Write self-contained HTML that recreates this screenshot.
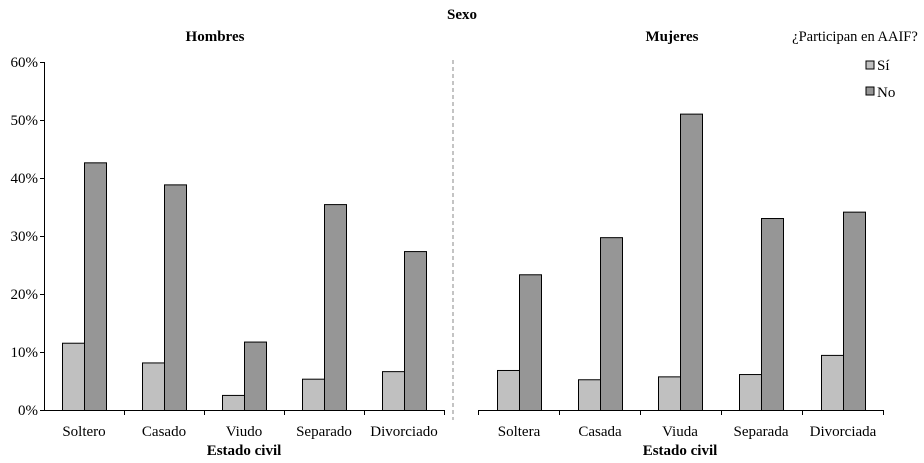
<!DOCTYPE html><html><head><style>body{margin:0;background:#fff}svg{display:block}text{font-family:"Liberation Serif",serif;fill:#000}</style></head><body>
<svg width="924" height="463" xmlns="http://www.w3.org/2000/svg">
<text x="462" y="19" font-size="15" font-weight="bold" text-anchor="middle">Sexo</text>
<text x="215" y="41" font-size="15" font-weight="bold" text-anchor="middle">Hombres</text>
<text x="672" y="41" font-size="15" font-weight="bold" text-anchor="middle">Mujeres</text>
<text x="855" y="41" font-size="14.5" text-anchor="middle">¿Participan en AAIF?</text>
<rect x="866" y="61" width="8" height="8" fill="#c0c0c0" stroke="#000" stroke-width="1"/><text x="877" y="70" font-size="15">Sí</text>
<rect x="866" y="87" width="8" height="8" fill="#969696" stroke="#000" stroke-width="1"/><text x="877" y="97" font-size="15">No</text>
<line x1="453" y1="60" x2="453" y2="420" stroke="#888" stroke-dasharray="4,3"/>
<g font-size="15" text-anchor="end">
<text x="38" y="415">0%</text><text x="38" y="357">10%</text><text x="38" y="299">20%</text><text x="38" y="241">30%</text><text x="38" y="183">40%</text><text x="38" y="125">50%</text><text x="38" y="67">60%</text>
</g>
<g stroke="#000" stroke-width="1">
<line x1="44.5" y1="62" x2="44.5" y2="410"/>
<line x1="40" y1="410.5" x2="444" y2="410.5"/>
<line x1="40" y1="352.5" x2="44" y2="352.5"/><line x1="40" y1="294.5" x2="44" y2="294.5"/><line x1="40" y1="236.5" x2="44" y2="236.5"/><line x1="40" y1="178.5" x2="44" y2="178.5"/><line x1="40" y1="120.5" x2="44" y2="120.5"/><line x1="40" y1="62.5" x2="44" y2="62.5"/>
<line x1="124.5" y1="410" x2="124.5" y2="415"/><line x1="204.5" y1="410" x2="204.5" y2="415"/><line x1="284.5" y1="410" x2="284.5" y2="415"/><line x1="364.5" y1="410" x2="364.5" y2="415"/><line x1="444.5" y1="410" x2="444.5" y2="415"/>
<line x1="478" y1="410.5" x2="884" y2="410.5"/>
<line x1="478.5" y1="410" x2="478.5" y2="415"/><line x1="559.5" y1="410" x2="559.5" y2="415"/><line x1="640.5" y1="410" x2="640.5" y2="415"/><line x1="721.5" y1="410" x2="721.5" y2="415"/><line x1="802.5" y1="410" x2="802.5" y2="415"/><line x1="883.5" y1="410" x2="883.5" y2="415"/>
</g>
<g stroke="#000" stroke-width="1" id="bars"></g>
<g font-size="15" text-anchor="middle" id="labels"></g>
<text x="244" y="455" font-size="15" font-weight="bold" text-anchor="middle">Estado civil</text>
<text x="680" y="455" font-size="15" font-weight="bold" text-anchor="middle">Estado civil</text>
<script>
var b=document.getElementById('bars'),l=document.getElementById('labels'),ns='http://www.w3.org/2000/svg';
function add(cs,names,si,no){for(var i=0;i<5;i++){var c=cs[i];[[si[i],c-22,'#c0c0c0'],[no[i],c,'#969696']].forEach(function(d){var h=d[0]*5.8,r=document.createElementNS(ns,'rect');r.setAttribute('x',d[1]+.5);r.setAttribute('y',410.5-h);r.setAttribute('width',22);r.setAttribute('height',h);r.setAttribute('fill',d[2]);b.appendChild(r);});var t=document.createElementNS(ns,'text');t.setAttribute('x',c);t.setAttribute('y',436);t.textContent=names[i];l.appendChild(t);}}
add([84,164,244,324,404],['Soltero','Casado','Viudo','Separado','Divorciado'],[11.6,8.2,2.6,5.4,6.7],[42.7,38.9,11.8,35.5,27.4]);
add([519,600,680,761,843],['Soltera','Casada','Viuda','Separada','Divorciada'],[6.9,5.3,5.8,6.2,9.5],[23.4,29.8,51.1,33.1,34.2]);
</script>
</svg></body></html>
